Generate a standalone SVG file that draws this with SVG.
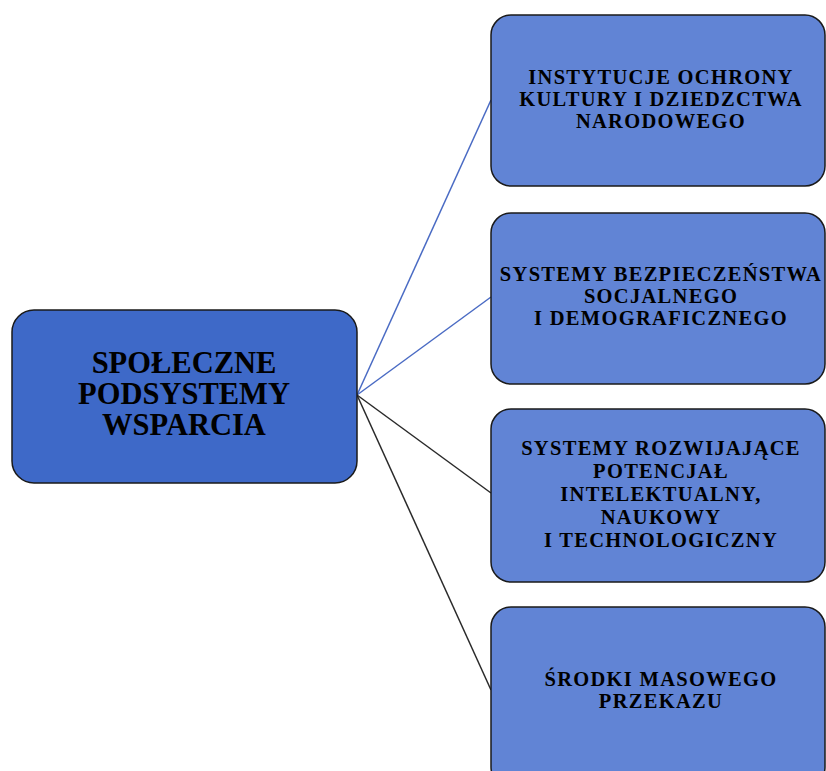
<svg xmlns="http://www.w3.org/2000/svg" width="826" height="771" viewBox="0 0 826 771">
<style>
.main{fill:#3E69C8;stroke:#1a1a1a;stroke-width:1.5}
.sub{fill:#6184D5;stroke:#1a1a1a;stroke-width:1.5}
.t{font-family:"Liberation Serif","Times New Roman",serif;font-weight:bold;fill:#000;text-anchor:middle}
.tm{font-size:30.5px}
.ts{font-size:20.5px;letter-spacing:1.3px}
.cb{stroke:#4A6BC4;stroke-width:1.5;fill:none}
.ck{stroke:#2a2a2a;stroke-width:1.5;fill:none}
</style>
<rect width="826" height="771" fill="#fff"/>
<g id="connectors">
<line class="cb" x1="357" y1="395" x2="491" y2="100"/>
<line class="cb" x1="357" y1="395" x2="491" y2="297"/>
<line class="ck" x1="357" y1="395" x2="491" y2="493"/>
<line class="ck" x1="357" y1="395" x2="491" y2="690"/>
</g>
<g id="center">
<rect class="main" x="12" y="310" width="345" height="173" rx="22"/>
<text class="t tm" x="184" y="373">SPOŁECZNE</text>
<text class="t tm" x="184" y="404">PODSYSTEMY</text>
<text class="t tm" x="184" y="435">WSPARCIA</text>
</g>
<g id="n1">
<rect class="sub" x="491" y="15" width="334" height="171" rx="20"/>
<text class="t ts" x="661" y="84">INSTYTUCJE OCHRONY</text>
<text class="t ts" x="661" y="106">KULTURY I DZIEDZCTWA</text>
<text class="t ts" x="661" y="128">NARODOWEGO</text>
</g>
<g id="n2">
<rect class="sub" x="491" y="213" width="334" height="171" rx="20"/>
<text class="t ts" x="661" y="281">SYSTEMY BEZPIECZEŃSTWA</text>
<text class="t ts" x="661" y="303">SOCJALNEGO</text>
<text class="t ts" x="661" y="325">I DEMOGRAFICZNEGO</text>
</g>
<g id="n3">
<rect class="sub" x="491" y="409" width="334" height="173" rx="20"/>
<text class="t ts" x="661" y="455">SYSTEMY ROZWIJAJĄCE</text>
<text class="t ts" x="661" y="478">POTENCJAŁ</text>
<text class="t ts" x="661" y="501">INTELEKTUALNY,</text>
<text class="t ts" x="661" y="524">NAUKOWY</text>
<text class="t ts" x="661" y="547">I TECHNOLOGICZNY</text>
</g>
<g id="n4">
<rect class="sub" x="491" y="607" width="334" height="180" rx="20"/>
<text class="t ts" x="661" y="686">ŚRODKI MASOWEGO</text>
<text class="t ts" x="661" y="708">PRZEKAZU</text>
</g>
</svg>
